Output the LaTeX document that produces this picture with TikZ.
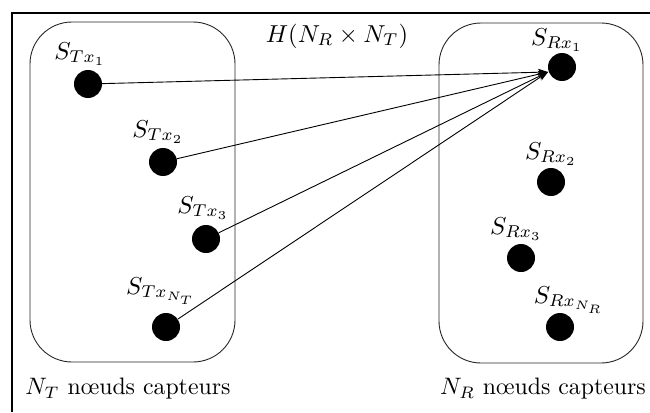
\documentclass[tikz,border=0pt]{standalone}
\usetikzlibrary{arrows.meta}
\begin{document}
\begin{tikzpicture}[x=1pt,y=-1pt,
  dot/.style={circle,fill=black,inner sep=0pt,minimum size=28pt},
  lbl/.style={inner sep=0pt,scale=2.45},
  txt/.style={inner sep=0pt,scale=2.38},
  grp/.style={draw=black!85,line width=0.9pt,rounded corners=42pt},
  link/.style={line width=0.9pt,-{Stealth[length=10pt,width=7pt,inset=2.5pt]}}]
\useasboundingbox (0,0) rectangle (650,412);
% frame
\draw[line width=1.3pt] (650,13) -- (12,13) -- (12,412);
% groups
\draw[grp] (30,22) rectangle (235,362);
\draw[grp] (439,23) rectangle (643,363);
% transmitters
\node[dot] (t1) at (88,84) {};
\node[dot] (t2) at (163,162) {};
\node[dot] (t3) at (206,239) {};
\node[dot] (tn) at (166,327) {};
% receivers
\node[dot] (r1) at (562,67) {};
\node[dot] (r2) at (551,182) {};
\node[dot] (r3) at (521,258) {};
\node[dot] (rn) at (560,327) {};
% labels
\node[lbl] (lt1) at (80,54) {$S_{Tx_1}$};
\node[lbl] (lt2) at (158,132) {$S_{Tx_2}$};
\node[lbl] (lt3) at (203,208) {$S_{Tx_3}$};
\node[lbl] (ltn) at (161,291) {$S_{Tx_{N_T}}$};
\node[lbl] (lr1) at (557,40) {$S_{Rx_1}$};
\node[lbl] (lr2) at (551,154) {$S_{Rx_2}$};
\node[lbl] (lr3) at (516,229) {$S_{Rx_3}$};
\node[lbl] (lrn) at (569,300) {$S_{Rx_{N_R}}$};
\node[lbl] (h) at (337,36) {$H(N_R\times N_T)$};
\node[txt] (nt) at (128,389) {$N_T$ nœuds capteurs};
\node[txt] (nr) at (543,389) {$N_R$ nœuds capteurs};
% arrows
\coordinate (tip) at (548,72);
\draw[link] (t1) -- (tip);
\draw[link] (t2) -- (tip);
\draw[link] (t3) -- (tip);
\draw[link] (tn) -- (tip);
\end{tikzpicture}
\end{document}
